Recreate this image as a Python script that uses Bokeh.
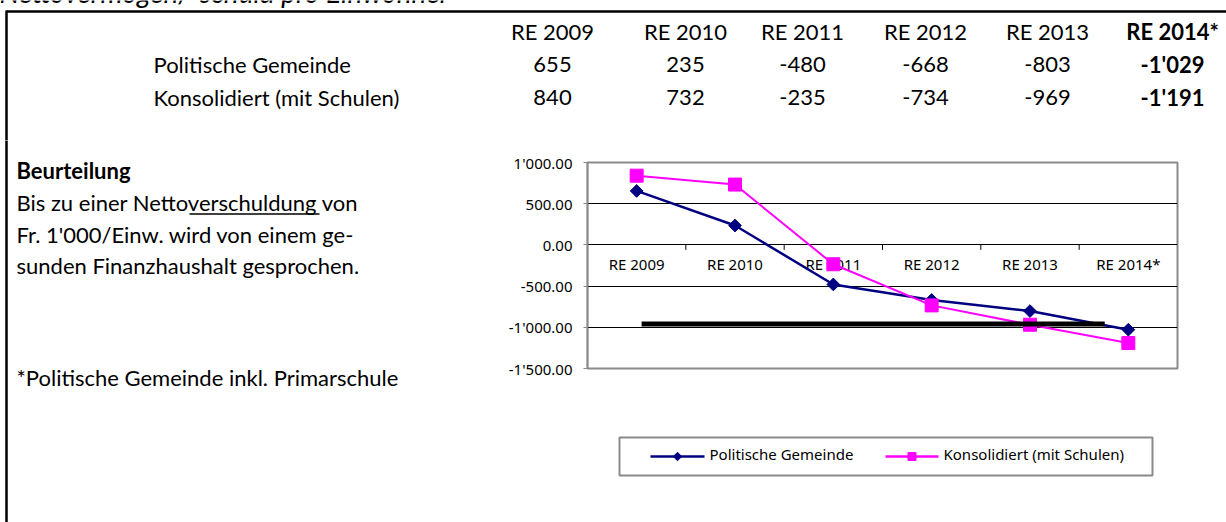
import numpy as np
from bokeh.plotting import figure
from bokeh.layouts import column, row
from bokeh.models import Range1d, FixedTicker, CustomJSTickFormatter
from bokeh.core.properties import value
from bokeh.embed import file_html
from bokeh.resources import INLINE

# ---------------- data ----------------
categories = ["RE 2009", "RE 2010", "RE 2011", "RE 2012", "RE 2013", "RE 2014*"]
politische = [655, 235, -480, -668, -803, -1029]
konsolidiert = [840, 732, -235, -734, -969, -1191]
series_names = ["Politische Gemeinde", "Konsolidiert (mit Schulen)"]
series_colors = ["#000080", "#FF00FF"]
y_ticks = [-1500, -1000, -500, 0, 500, 1000]
limit_value = [-960]
limit_span = [0.55, 5.26]
title_text = "Nettovermögen/-schuld pro Einwohner"
heading = "Beurteilung"
body_lines = ["Bis zu einer Nettoverschuldung von",
              "Fr. 1'000/Einw. wird von einem ge-",
              "sunden Finanzhaushalt gesprochen."]
footnote = "*Politische Gemeinde inkl. Primarschule"

# ---------------- layout constants (page pixels) ----------------
W, H = 1226, 522
TOP_H = 140          # table band height
LEFT_W = 490         # commentary column width
CHART_H = 290        # chart figure height
FL, FR, FT, FB = 587, 1177, 162, 368   # plot frame
TXT_FONT = "Lato"
TXT_SIZE = "22px"
SHIFT = 8            # baseline correction for the text glyphs
CH_FONT = "Noto Sans"
CH_SIZE = "15px"


def pixel_fig(x0, x1, y0, y1):
    f = figure(width=x1 - x0, height=y1 - y0, output_backend="svg", toolbar_location=None,
               x_range=Range1d(x0, x1), y_range=Range1d(y1, y0),
               x_axis_type=None, y_axis_type=None, min_border=0, frame_align=False,
               background_fill_color="white", border_fill_color="white")
    f.outline_line_color = None
    f.grid.visible = False
    return f


def txt(f, xs, ys, texts, align="left", bold=False, italic=False, font=TXT_FONT, size=TXT_SIZE,
        baseline="alphabetic", shift=SHIFT):
    style = "bold" if bold else ("italic" if italic else "normal")
    f.text(x=xs, y=[y - shift for y in ys], text=texts, text_align=align, text_baseline=baseline,
           text_font=value(font), text_font_size=size, text_color="black",
           text_font_style=style)


# ---------------- top band: table ----------------
top = pixel_fig(0, W, 0, TOP_H)
txt(top, [-1], [1], [title_text], italic=True, size="28px", shift=10)
top.segment(x0=[6], y0=[11], x1=[W + 5], y1=[11], line_color="black", line_width=2.5)
top.segment(x0=[6], y0=[10], x1=[6], y1=[TOP_H + 1], line_color="black", line_width=2.5)

col_x = [552, 685, 802, 925, 1047, 1172]
header_y = 39
row_y = [72, 105]
n = len(categories)
txt(top, col_x[:-1], [header_y] * (n - 1), categories[:-1], align="center")
txt(top, col_x[-1:], [header_y], categories[-1:], align="center", bold=True)
for vals, yy in zip([politische, konsolidiert], row_y):
    labels = [f"{v:,}".replace(",", "'") for v in vals]
    txt(top, col_x[:-1], [yy] * (n - 1), labels[:-1], align="center")
    txt(top, col_x[-1:], [yy], labels[-1:], align="center", bold=True)
txt(top, [153, 153], row_y, series_names)

# ---------------- left column: commentary ----------------
left = pixel_fig(0, LEFT_W, TOP_H, H)
left.segment(x0=[6], y0=[TOP_H - 1], x1=[6], y1=[H + 5], line_color="black", line_width=2.5)
txt(left, [16], [178], [heading], bold=True)
txt(left, [16] * len(body_lines), [210, 242, 273], body_lines)
txt(left, [16], [385], [footnote])
left.segment(x0=[189], y0=[213.5], x1=[319], y1=[213.5], line_color="black", line_width=1.5)

# ---------------- chart ----------------
cw = W - LEFT_W
p = figure(width=cw, height=CHART_H, output_backend="svg", toolbar_location=None,
           x_range=Range1d(0, n), y_range=Range1d(min(y_ticks), max(y_ticks)),
           min_border_left=FL - LEFT_W, min_border_right=W - FR,
           min_border_top=FT - TOP_H, min_border_bottom=TOP_H + CHART_H - FB,
           frame_align=False,
           background_fill_color="white", border_fill_color="white")
p.xaxis.visible = False
p.xgrid.visible = False
p.outline_line_color = "#8a8a8a"
p.outline_line_width = 2

yax = p.yaxis[0]
yax.ticker = FixedTicker(ticks=y_ticks)
yax.formatter = CustomJSTickFormatter(code="""
const a = Math.abs(tick).toFixed(2).split('.');
const ip = a[0].replace(/\\B(?=(\\d{3})+(?!\\d))/g, "'");
return (tick < 0 ? '-' : '') + ip + '.' + a[1];
""")
yax.axis_line_color = "#8a8a8a"
yax.axis_line_width = 1.5
yax.major_tick_line_color = "#8a8a8a"
yax.major_tick_out = 4
yax.major_tick_in = 0
yax.minor_tick_out = 0
yax.minor_tick_in = 0
yax.major_label_standoff = 11
yax.major_label_text_font = CH_FONT
yax.major_label_text_font_size = CH_SIZE
yax.major_label_text_color = "black"

p.ygrid.ticker = FixedTicker(ticks=[t for t in y_ticks if t not in (min(y_ticks), max(y_ticks))])
p.ygrid.grid_line_color = "black"
p.ygrid.grid_line_width = 1

xc = [i + 0.5 for i in range(n)]
bounds = list(range(1, n))
p.text(x=xc, y=[0] * n, text=categories, text_align="center",
       text_baseline="middle", y_offset=19, text_font=value(CH_FONT),
       text_font_size=CH_SIZE, text_color="black")
p.segment(x0=bounds, y0=[0] * len(bounds), x1=bounds, y1=[-60] * len(bounds),
          line_color="black", line_width=1)

p.line(xc, politische, line_color=series_colors[0], line_width=2.5)
p.scatter(xc, politische, marker="square", angle=np.pi / 4, size=9,
          fill_color=series_colors[0], line_color=series_colors[0])
p.line(xc, konsolidiert, line_color=series_colors[1], line_width=2)
p.scatter(xc, konsolidiert, marker="square", size=13,
          fill_color=series_colors[1], line_color=series_colors[1])
p.segment(x0=[limit_span[0]], y0=limit_value, x1=[limit_span[1]], y1=limit_value,
          line_color="black", line_width=5)

# ---------------- legend band ----------------
lg = pixel_fig(LEFT_W, W, TOP_H + CHART_H, H)
lg.quad(left=[619], right=[1152], top=[437], bottom=[475], fill_alpha=0,
        line_color="#8a8a8a", line_width=2)
ly = 456
lg.segment(x0=[650, 885], y0=[ly, ly], x1=[704, 938], y1=[ly, ly],
           line_color=series_colors, line_width=[2.5, 2.5])
lg.scatter([677], [ly], marker="square", angle=np.pi / 4, size=6,
           fill_color=series_colors[0], line_color=series_colors[0])
lg.scatter([911.5], [ly], marker="square", size=8,
           fill_color=series_colors[1], line_color=series_colors[1])
txt(lg, [709, 943], [ly, ly], series_names, font=CH_FONT, size=CH_SIZE, baseline="middle",
    shift=3)

layout = column(top, row(left, column(p, lg, spacing=0), spacing=0), spacing=0)
open("out.html", "w").write(file_html(layout, INLINE))
